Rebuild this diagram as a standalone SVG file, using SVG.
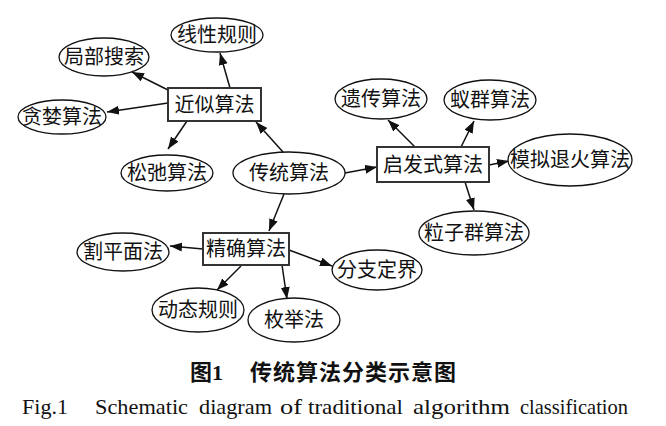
<svg xmlns="http://www.w3.org/2000/svg" width="666" height="426" viewBox="0 0 666 426">
<style>
.e{fill:#fff;stroke:#111;stroke-width:1.3}
.r{fill:#fff;stroke:#333;stroke-width:2}
.t{font-family:"Liberation Serif","Noto Sans CJK SC",serif;font-size:20px;fill:#111;text-anchor:middle}
.c line{stroke:#111;stroke-width:1.5;marker-end:url(#a)}
.cap{font-family:"Liberation Serif","Noto Sans CJK SC",serif;font-weight:bold;font-size:22px;fill:#111}
.en{font-family:"Liberation Serif",serif;font-size:22px;fill:#111}
</style>
<defs>
<marker id="a" markerUnits="userSpaceOnUse" markerWidth="13" markerHeight="10" refX="12" refY="4.5" orient="auto">
<path d="M0,0 L12,4.5 L0,9 z" fill="#111"/>
</marker>
</defs>
<g class="c" id="connectors">
<line x1="230" y1="88" x2="220" y2="53"/>
<line x1="168" y1="90" x2="132" y2="72"/>
<line x1="168" y1="103" x2="107" y2="112"/>
<line x1="187" y1="121" x2="168" y2="149"/>
<line x1="283" y1="152" x2="256" y2="122"/>
<line x1="345" y1="173" x2="377" y2="167"/>
<line x1="415" y1="147" x2="388" y2="120"/>
<line x1="461" y1="147" x2="474" y2="121"/>
<line x1="489" y1="165" x2="509" y2="161"/>
<line x1="465" y1="182" x2="474" y2="210"/>
<line x1="284" y1="194" x2="269" y2="231"/>
<line x1="203" y1="249" x2="170" y2="246"/>
<line x1="289" y1="250" x2="332" y2="266"/>
<line x1="241" y1="266" x2="217" y2="290"/>
<line x1="282" y1="265" x2="287" y2="299"/>
</g>
<g id="n_xianxing"><ellipse class="e" cx="217" cy="35" rx="46" ry="17"/><text class="t" x="217" y="42">线性规则</text></g>
<g id="n_jubu"><ellipse class="e" cx="104" cy="57" rx="45" ry="19"/><text class="t" x="104" y="64">局部搜索</text></g>
<g id="n_tanlan"><ellipse class="e" cx="62" cy="117" rx="44" ry="17"/><text class="t" x="62" y="124">贪婪算法</text></g>
<g id="n_songchi"><ellipse class="e" cx="167" cy="173" rx="46" ry="18"/><text class="t" x="167" y="180">松弛算法</text></g>
<g id="n_jinsi"><rect class="r" x="168" y="88" width="93" height="33"/><text class="t" x="214.5" y="111.5">近似算法</text></g>
<g id="n_chuantong"><ellipse class="e" cx="289" cy="173" rx="56" ry="21"/><text class="t" x="289" y="180">传统算法</text></g>
<g id="n_yichuan"><ellipse class="e" cx="381" cy="99" rx="46" ry="20"/><text class="t" x="381" y="106">遗传算法</text></g>
<g id="n_yiqun"><ellipse class="e" cx="490" cy="100" rx="46" ry="20"/><text class="t" x="490" y="107">蚁群算法</text></g>
<g id="n_qifa"><rect class="r" x="377" y="147" width="112" height="35"/><text class="t" x="433" y="171.5">启发式算法</text></g>
<g id="n_moni"><ellipse class="e" cx="570" cy="160" rx="62" ry="26"/><text class="t" x="570" y="167">模拟退火算法</text></g>
<g id="n_lizi"><ellipse class="e" cx="474" cy="233" rx="55" ry="22"/><text class="t" x="474" y="240">粒子群算法</text></g>
<g id="n_jingque"><rect class="r" x="203" y="233" width="86" height="32"/><text class="t" x="246" y="256">精确算法</text></g>
<g id="n_gepingmian"><ellipse class="e" cx="123" cy="252" rx="46" ry="19"/><text class="t" x="123" y="259">割平面法</text></g>
<g id="n_fenzhi"><ellipse class="e" cx="377" cy="270" rx="45" ry="20"/><text class="t" x="377" y="277">分支定界</text></g>
<g id="n_dongtai"><ellipse class="e" cx="198" cy="310" rx="46" ry="22"/><text class="t" x="198" y="317">动态规则</text></g>
<g id="n_meiju"><ellipse class="e" cx="294" cy="320" rx="46" ry="22"/><text class="t" x="294" y="327">枚举法</text></g>
<g id="caption">
<text class="cap" x="190" y="380">图1</text>
<text class="cap" x="250" y="380" letter-spacing="1">传统算法分类示意图</text>
<text class="en" x="22" y="414" textLength="46" lengthAdjust="spacingAndGlyphs">Fig.1</text>
<text class="en" x="95" y="414" textLength="93" lengthAdjust="spacingAndGlyphs">Schematic</text>
<text class="en" x="199" y="414" textLength="73" lengthAdjust="spacingAndGlyphs">diagram</text>
<text class="en" x="280" y="414" textLength="22" lengthAdjust="spacingAndGlyphs">of</text>
<text class="en" x="308" y="414" textLength="95" lengthAdjust="spacingAndGlyphs">traditional</text>
<text class="en" x="413" y="414" textLength="97" lengthAdjust="spacingAndGlyphs">algorithm</text>
<text class="en" x="520" y="414" textLength="108" lengthAdjust="spacingAndGlyphs">classification</text>
</g>
</svg>
